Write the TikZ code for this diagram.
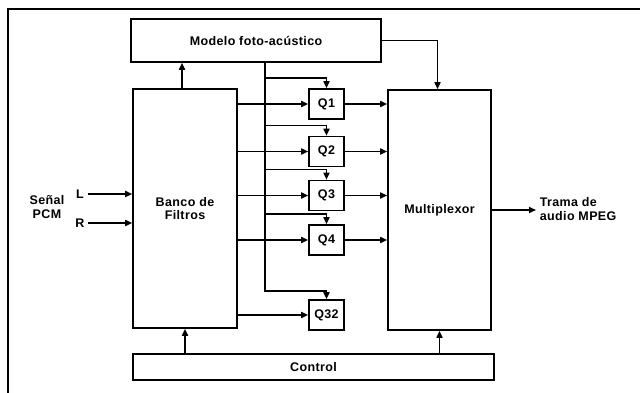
\documentclass[tikz,border=0pt]{standalone}
\usepackage{fontspec}
\setmainfont{Liberation Sans}[LetterSpace=3]
\usetikzlibrary{arrows.meta,positioning}

\begin{document}
\begin{tikzpicture}[
  x=1pt, y=-1pt,
  line width=1.6pt,
  >={Triangle[length=7pt,width=6pt]},
  txt/.style={font=\bfseries\fontsize{12.5}{13.5}\selectfont},
  box/.style={draw, txt, inner sep=0pt, align=center},
  qbox/.style={box, minimum width=35pt, minimum height=30pt},
  lbl/.style={txt, inner sep=3pt, align=center}
]
\path[fill=white, use as bounding box] (0,0) rectangle (640,393);
% marco
\draw[line width=1.8pt] (640,9) -- (8,9) -- (8,393);

\node[box, minimum width=250pt, minimum height=43pt] (modelo) at (256,40.5) {Modelo foto-acústico};
\node[box, minimum width=104pt, minimum height=239pt] (banco) at (185,208.5) {Banco de\\Filtros};
\node[box, minimum width=103pt, minimum height=240pt] (mux) at (439.5,210) {Multiplexor};
\node[box, minimum width=361pt, minimum height=26pt] (control) at (313.5,367) {Control};
\foreach \n/\y in {1/104, 2/151.5, 3/195.5, 4/240, 32/315}
  \node[qbox] (q\n) at (326.5,\y) {Q\n};

\node[lbl] (L) at (80,194) {L};
\node[lbl] (R) at (80,223) {R};
\node[lbl] (senal) at (47,207) {Señal\\PCM};
\node[lbl, align=left, anchor=west] (trama) at (536,209) {Trama de\\audio MPEG};

\coordinate (bus) at (265,0);

% entradas y salida
\draw[->] (L) -- (L -| banco.west);
\draw[->] (R) -- (R -| banco.west);
\draw[->] (mux.east) -- (trama.west |- mux.east);

% modelo
\draw[->] ([xshift=-3pt]banco.north) -- ([xshift=-3pt]banco.north |- modelo.south);
\draw[->] (modelo.east) -| ([xshift=-2pt]mux.north);
\draw[->] (modelo.south -| bus) -- ++(0,228) -| (q32.north);
\foreach \n in {1,2,3,4}
  \draw[->] ([yshift=10pt]q\n.north -| bus) -| (q\n.north);

% cuantificadores
\foreach \n in {1,2,3,4,32}
  \draw[->] (banco.east |- q\n) -- (q\n.west);
\foreach \n in {1,2,3,4}
  \draw[->] (q\n.east) -- (q\n -| mux.west);

% control
\draw[->] (control.north -| banco.south) -- (banco.south);
\draw[->] (control.north -| mux.south) -- (mux.south);
\end{tikzpicture}
\end{document}
